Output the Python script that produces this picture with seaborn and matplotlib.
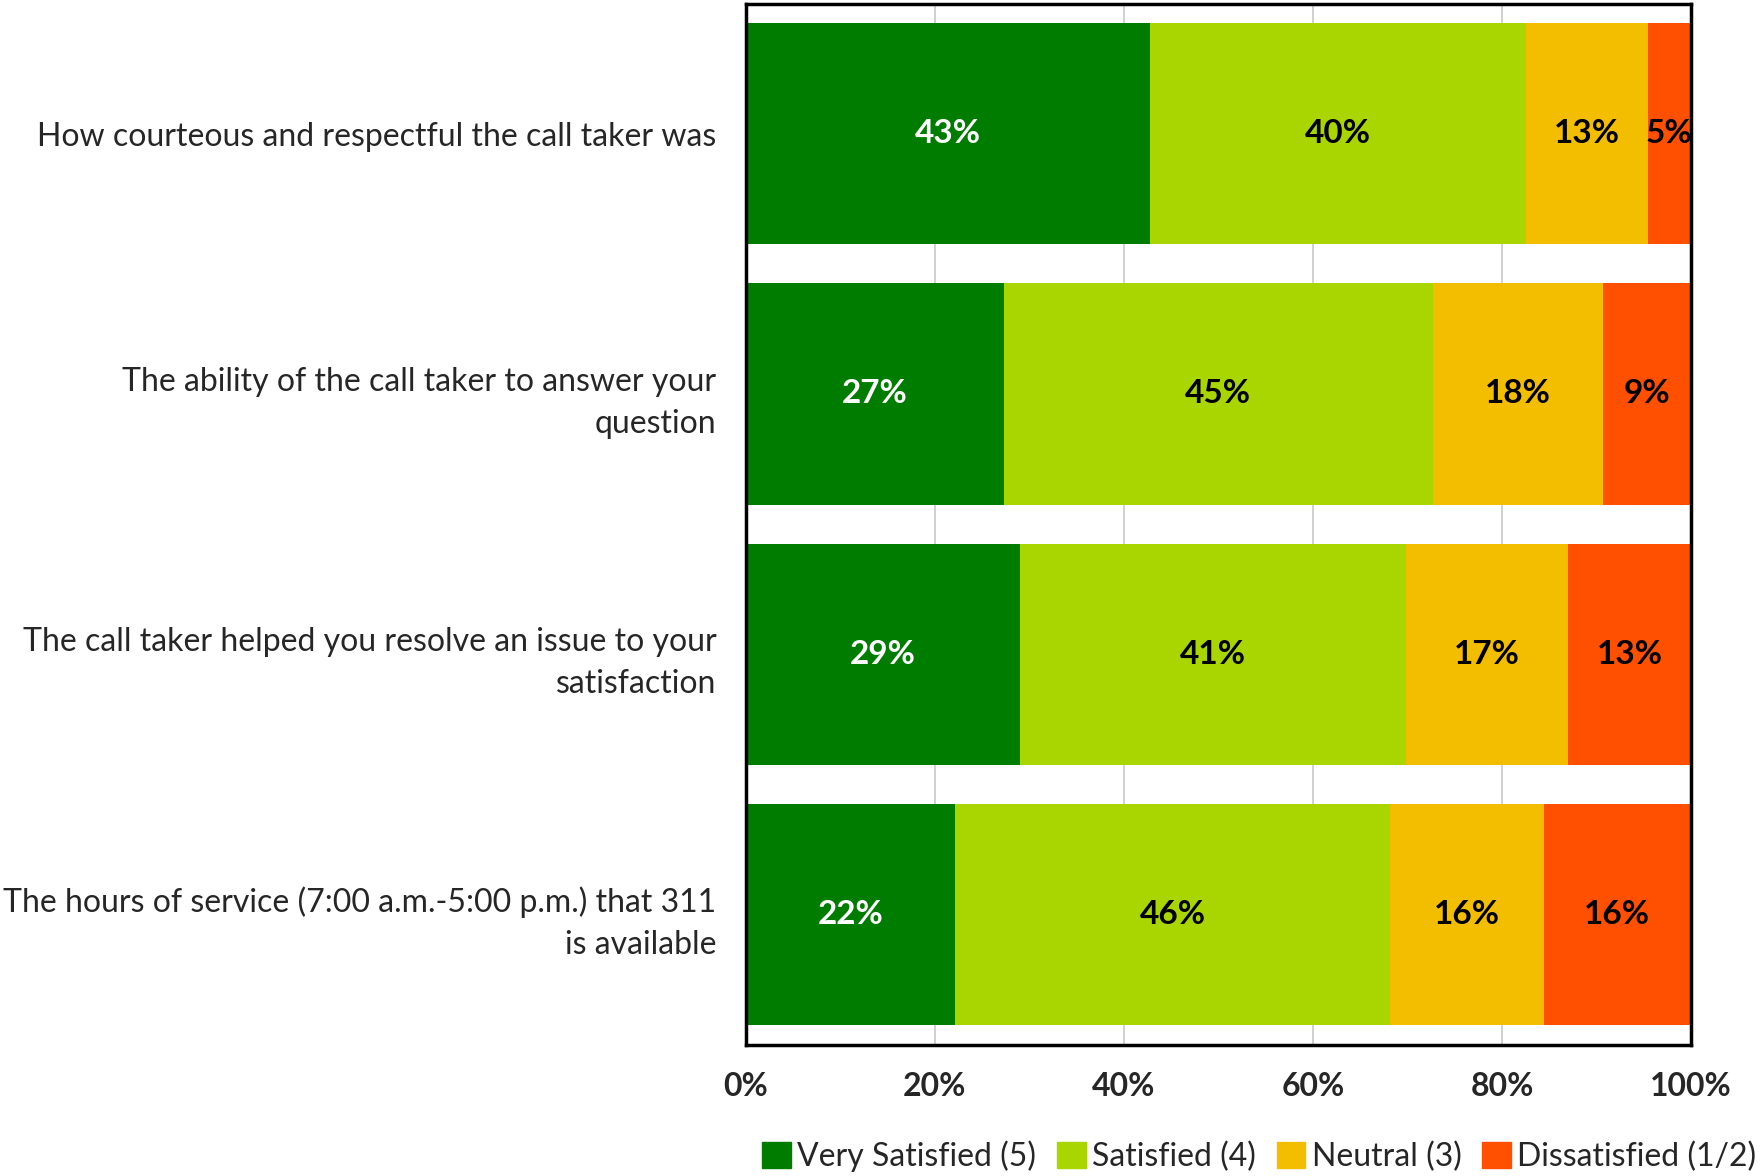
import matplotlib
matplotlib.use("Agg")
import matplotlib.pyplot as plt
import matplotlib.patches as mpatches
import seaborn as sns
import numpy as np
import pandas as pd

categories = [
    "How courteous and respectful the call taker was",
    "The ability of the call taker to answer your\nquestion",
    "The call taker helped you resolve an issue to your\nsatisfaction",
    "The hours of service (7:00 a.m.-5:00 p.m.) that 311\nis available",
]
series_names = ["Very Satisfied (5)", "Satisfied (4)", "Neutral (3)", "Dissatisfied (1/2)"]
very_satisfied = [42.8, 27.3, 29.0, 22.2]
satisfied = [39.7, 45.4, 40.8, 46.0]
neutral = [12.9, 18.0, 17.2, 16.2]
dissatisfied = [4.6, 9.3, 13.0, 15.6]
x_ticks = [0, 20, 40, 60, 80, 100]
x_tick_labels = ["0%", "20%", "40%", "60%", "80%", "100%"]

colors = ["#007D00", "#A9D500", "#F4BE00", "#FF4F00"]
text_colors = ["white", "black", "black", "black"]

sns.set_style("white")
plt.rcParams['font.family'] = ['Lato', 'DejaVu Sans']

fig = plt.figure(figsize=(17.63, 11.76), dpi=100)
ax = fig.add_axes([0.4229, 0.1117, 0.9592 - 0.4229, 0.997 - 0.1117])

series = [very_satisfied, satisfied, neutral, dissatisfied]
cum = np.zeros(len(categories))
cums = []
for s in series:
    cum = cum + np.array(s)
    cums.append(cum.copy())

for i in range(len(series) - 1, -1, -1):
    d = pd.DataFrame({"category": categories, "value": cums[i]})
    sns.barplot(data=d, x="value", y="category", orient="h", color=colors[i],
                width=0.85, saturation=1, ax=ax, linewidth=0, zorder=2)

for i, s in enumerate(series):
    starts = cums[i] - np.array(s)
    for j, v in enumerate(s):
        ax.text(starts[j] + v / 2, j, f"{round(v)}%", ha="center", va="center",
                fontsize=24, fontweight="bold", color=text_colors[i], zorder=3)

ax.set_xlim(0, 100)
ax.set_ylim(3.5, -0.5)
ax.set_xticks(x_ticks)
ax.set_xticklabels(x_tick_labels, fontsize=23, fontweight="bold")
ax.tick_params(axis="x", pad=20, length=0)
ax.tick_params(axis="y", pad=21, length=0, labelsize=23)
for lbl in ax.get_yticklabels():
    lbl.set_linespacing(1.5)
ax.set_xlabel("")
ax.set_ylabel("")
ax.xaxis.grid(True, color="#C8C8C8", linewidth=1.2, zorder=0)
ax.set_axisbelow(True)
for sp in ax.spines.values():
    sp.set_visible(True)
    sp.set_color("black")
    sp.set_linewidth(2.5)

handles = [mpatches.Patch(color=c, label=n) for c, n in zip(colors, series_names)]
fig.legend(handles=handles, loc="center right", bbox_to_anchor=(1.0, 0.017), ncol=4,
           frameon=False, fontsize=23, handlelength=0.9, handleheight=0.9,
           handletextpad=0.2, columnspacing=0.65, borderpad=0.1, borderaxespad=0.1)

fig.savefig("out.png", dpi=100)
